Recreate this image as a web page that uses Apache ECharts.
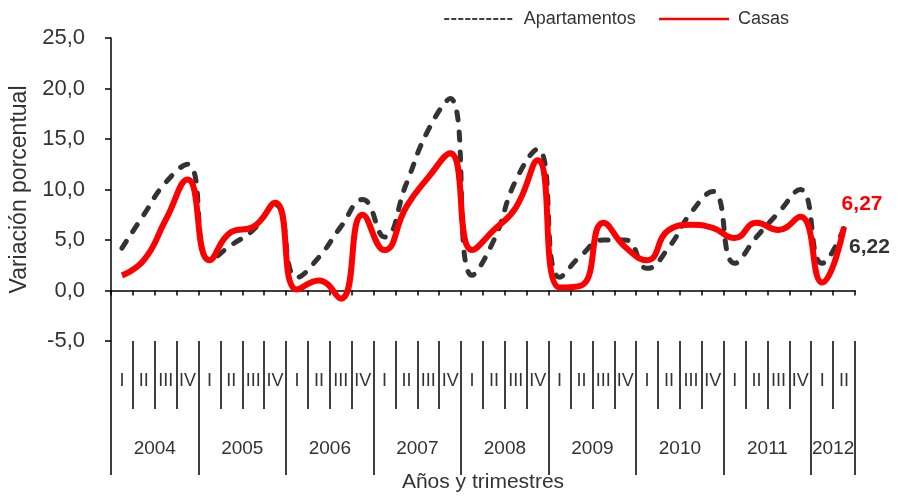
<!DOCTYPE html>
<html><head><meta charset="utf-8">
<script src="https://cdn.jsdelivr.net/npm/echarts@6/dist/echarts.min.js"></script>
<style>html,body{margin:0;padding:0;background:#fff}#c{width:898px;height:497px}</style>
</head><body><div id="c"></div>
<script>
const categories = ['2004 I','2004 II','2004 III','2004 IV','2005 I','2005 II','2005 III','2005 IV',
  '2006 I','2006 II','2006 III','2006 IV','2007 I','2007 II','2007 III','2007 IV',
  '2008 I','2008 II','2008 III','2008 IV','2009 I','2009 II','2009 III','2009 IV',
  '2010 I','2010 II','2010 III','2010 IV','2011 I','2011 II','2011 III','2011 IV',
  '2012 I','2012 II'];
const years = ['2004','2005','2006','2007','2008','2009','2010','2011','2012'];
const quartersPerYear = [4,4,4,4,4,4,4,4,2];
const apartamentos = [4.2, 7.5, 10.7, 12.5, 3.0, 4.5, 6.0, 8.5, 1.3, 3.3, 6.3, 9.0, 5.3, 10.6, 15.9, 19.0,
  1.5, 5.0, 10.9, 14.0, 1.3, 3.5, 5.0, 5.0, 2.2, 4.3, 7.7, 9.8, 2.7, 5.3, 7.7, 10.0, 2.7, 6.22];
const casas = [1.5, 3.0, 7.0, 11.0, 3.0, 5.8, 6.3, 8.7, 0.1, 1.0, -0.8, 7.5, 4.0, 8.3, 11.2, 13.6,
  4.0, 6.0, 8.2, 12.9, 0.3, 0.5, 6.7, 4.3, 3.0, 6.0, 6.5, 6.2, 5.2, 6.7, 6.0, 7.3, 0.8, 6.27];

const FONT = 'Liberation Sans';
const fmt = v => v.toFixed(2).replace('.', ',');
const yearBounds = [0];
const yearCentres = [];
quartersPerYear.forEach(n => { const s = yearBounds[yearBounds.length-1]; yearCentres.push(s + n/2); yearBounds.push(s + n); });
const nQ = categories.length;

const chart = echarts.init(document.getElementById('c'), null, {renderer:'canvas'});
chart.setOption({
  animation: false,
  textStyle: {fontFamily: FONT},
  legend: {
    left: 439, top: 5, itemWidth: 70, itemHeight: 14, itemGap: 22,
    textStyle: {fontFamily: FONT, fontSize: 18, color: '#333', padding: [0,0,0,4]},
    data: [
      {name: 'Apartamentos', itemStyle: {opacity: 0}, lineStyle: {width: 1.5, type: [4,3], color: '#000'}},
      {name: 'Casas', itemStyle: {opacity: 0}, lineStyle: {width: 2.5, color: '#ff0000'}}
    ]
  },
  grid: {left: 111, right: 43, top: 38, bottom: 156, containLabel: false, outerBoundsMode: 'none'},
  xAxis: [
    {type: 'category', data: categories, boundaryGap: true,
     axisLine: {onZero: true, lineStyle: {color: '#000', width: 1.5}},
     axisTick: {show: true, interval: 0, length: 5, lineStyle: {color: '#000', width: 1.5}},
     axisLabel: {show: false}, splitLine: {show: false}},
    {type: 'category', data: categories, boundaryGap: true, position: 'bottom', offset: 0,
     axisLine: {show: false, onZero: false},
     axisTick: {show: true, interval: 0, length: 68, lineStyle: {color: '#000', width: 1.5}},
     axisLabel: {interval: 0, margin: 31, fontSize: 18, color: '#333', fontFamily: FONT,
                 formatter: v => v.split(' ')[1]},
     splitLine: {show: false}},
    {type: 'value', min: 0, max: nQ, position: 'bottom', offset: 0,
     axisLine: {show: false, onZero: false},
     axisTick: {show: true, customValues: yearBounds, length: 134, lineStyle: {color: '#000', width: 1.5}},
     axisLabel: {customValues: yearCentres, margin: 98, fontSize: 19, color: '#333', fontFamily: FONT,
                 formatter: v => years[yearCentres.indexOf(v)]},
     splitLine: {show: false},
     name: 'Años y trimestres', nameLocation: 'middle', nameGap: 131,
     nameTextStyle: {fontSize: 21, color: '#333', fontFamily: FONT}}
  ],
  yAxis: {
    type: 'value', min: -5, max: 25, interval: 5,
    axisLine: {show: true, lineStyle: {color: '#000', width: 1.5}},
    axisTick: {show: true, length: 6, lineStyle: {color: '#000', width: 1.5}},
    axisLabel: {margin: 26, fontSize: 22, color: '#333', fontFamily: FONT,
                formatter: v => v.toFixed(1).replace('.', ',')},
    splitLine: {show: false},
    name: 'Variación porcentual', nameLocation: 'middle', nameGap: 74, nameRotate: 90,
    nameTextStyle: {fontSize: 23, color: '#333', fontFamily: FONT}
  },
  series: [
    {name: 'Apartamentos', type: 'line', data: apartamentos, smooth: 0.5, symbol: 'none',
     lineStyle: {color: '#333', width: 5, type: [8, 12], cap: 'round'},
     itemStyle: {color: '#333'},
     endLabel: {show: true, distance: 0, align: 'left', verticalAlign: 'middle', offset: [5, 20],
                fontSize: 21, fontWeight: 'bold', color: '#333', fontFamily: FONT,
                formatter: p => fmt(p.value)}},
    {name: 'Casas', type: 'line', data: casas, smooth: 0.5, symbol: 'none',
     lineStyle: {color: '#ff0000', width: 6},
     itemStyle: {color: '#ff0000'},
     endLabel: {show: true, distance: 0, align: 'center', verticalAlign: 'middle', offset: [18, -23],
                fontSize: 21, fontWeight: 'bold', color: '#ff0000', fontFamily: FONT,
                formatter: p => fmt(p.value)}}
  ]
});
</script></body></html>
